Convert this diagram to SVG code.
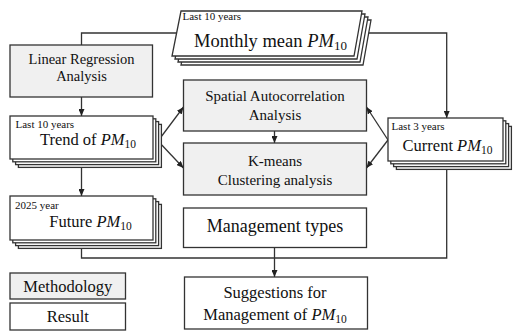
<svg xmlns="http://www.w3.org/2000/svg" width="513" height="332" viewBox="0 0 513 332">
<defs>
<style>
.m{fill:#f0f0f0;stroke:#333;stroke-width:1.3}
.r{fill:#fff;stroke:#333;stroke-width:1.3}
.c{fill:none;stroke:#333;stroke-width:1.3}
text{font-family:'Liberation Serif','DejaVu Serif',serif;fill:#111}
.t{text-anchor:middle}
.s{font-size:11px}
.i{font-style:italic}
</style>
<marker id="a" markerWidth="7" markerHeight="6" refX="7" refY="3" orient="auto" markerUnits="userSpaceOnUse">
<path d="M0,0 L7,3 L0,6 z" fill="#222"/>
</marker>
</defs>
<g font-family="Liberation Serif, DejaVu Serif, serif">
<g id="connectors">
<polyline class="c" points="177,33 81.5,33 81.5,45"/>
<line class="c" x1="81.5" y1="97" x2="81.5" y2="116" marker-end="url(#a)"/>
<line class="c" x1="81.5" y1="159" x2="81.5" y2="196" marker-end="url(#a)"/>
<polyline class="c" points="81.5,240 81.5,258 446.7,258 446.7,161"/>
<line class="c" x1="274.5" y1="247.5" x2="274.5" y2="277" marker-end="url(#a)"/>
<line class="c" x1="274.5" y1="131" x2="274.5" y2="143" marker-end="url(#a)"/>
<line class="c" x1="158" y1="141" x2="183.5" y2="107" marker-end="url(#a)"/>
<line class="c" x1="158" y1="141" x2="183.5" y2="168" marker-end="url(#a)"/>
<line class="c" x1="388" y1="140" x2="366.5" y2="107" marker-end="url(#a)"/>
<line class="c" x1="388" y1="140" x2="366.5" y2="168" marker-end="url(#a)"/>
<polyline class="c" points="359,33 446.7,33 446.7,118" marker-end="url(#a)"/>
</g>
<g id="monthly">
<polygon class="r" points="190,20 371,20 363,65 181,65"/>
<polygon class="r" points="187,17 368,17 360,62 178,62"/>
<polygon class="r" points="184,14 365,14 357,59 175,59"/>
<polygon class="r" points="181,11 362,11 354,56 172,56"/>
<text class="s" x="182.5" y="20">Last 10 years</text>
<text class="t" x="270.5" y="46.5" font-size="18.5">Monthly mean <tspan class="i">PM</tspan><tspan font-size="13" dy="3">10</tspan></text>
</g>
<g id="linreg">
<rect class="m" x="10" y="45" width="142.5" height="52"/>
<text class="t" x="81.5" y="64" font-size="14.5">Linear Regression</text>
<text class="t" x="81.5" y="81" font-size="14.5">Analysis</text>
</g>
<g id="trend">
<rect class="r" x="18.4" y="124.4" width="143" height="43"/>
<rect class="r" x="15.6" y="121.6" width="143" height="43"/>
<rect class="r" x="12.8" y="118.8" width="143" height="43"/>
<rect class="r" x="10" y="116" width="143" height="43"/>
<text class="s" x="15.5" y="127.5">Last 10 years</text>
<text class="t" x="88" y="145" font-size="16.5">Trend of <tspan class="i">PM</tspan><tspan font-size="11.5" dy="3">10</tspan></text>
</g>
<g id="future">
<rect class="r" x="18.4" y="204.4" width="143" height="44"/>
<rect class="r" x="15.6" y="201.6" width="143" height="44"/>
<rect class="r" x="12.8" y="198.8" width="143" height="44"/>
<rect class="r" x="10" y="196" width="143" height="44"/>
<text class="s" x="15" y="208.5">2025 year</text>
<text class="t" x="90.5" y="226.5" font-size="16.5">Future <tspan class="i">PM</tspan><tspan font-size="11.5" dy="3">10</tspan></text>
</g>
<g id="current">
<rect class="r" x="396.4" y="126.4" width="115" height="43"/>
<rect class="r" x="393.6" y="123.6" width="115" height="43"/>
<rect class="r" x="390.8" y="120.8" width="115" height="43"/>
<rect class="r" x="388" y="118" width="115" height="43"/>
<text class="s" x="391.5" y="129.5">Last 3 years</text>
<text class="t" x="447.5" y="150.5" font-size="16.5">Current <tspan class="i">PM</tspan><tspan font-size="11.5" dy="3">10</tspan></text>
</g>
<g id="spatial">
<rect class="m" x="183.5" y="80" width="183" height="51"/>
<text class="t" x="275" y="100.5" font-size="15">Spatial Autocorrelation</text>
<text class="t" x="275" y="120" font-size="15">Analysis</text>
</g>
<g id="kmeans">
<rect class="m" x="183.5" y="143" width="183" height="52"/>
<text class="t" x="275" y="166" font-size="15">K-means</text>
<text class="t" x="275" y="185" font-size="15">Clustering analysis</text>
</g>
<g id="mgmt">
<rect class="r" x="183.5" y="208" width="183" height="39.5"/>
<text class="t" x="275" y="231.5" font-size="18">Management types</text>
</g>
<g id="suggest">
<rect class="r" x="184.5" y="277" width="183" height="52"/>
<text class="t" x="275" y="298" font-size="16.5">Suggestions for</text>
<text class="t" x="275" y="320" font-size="16.5">Management of <tspan class="i">PM</tspan><tspan font-size="11.5" dy="3">10</tspan></text>
</g>
<g id="legend-method">
<rect class="m" x="10" y="273" width="115.5" height="26"/>
<text class="t" x="67.8" y="291.5" font-size="16.5">Methodology</text>
</g>
<g id="legend-result">
<rect class="r" x="10" y="303" width="115.5" height="27"/>
<text class="t" x="67.8" y="321.5" font-size="16.5">Result</text>
</g>
</g>
</svg>
